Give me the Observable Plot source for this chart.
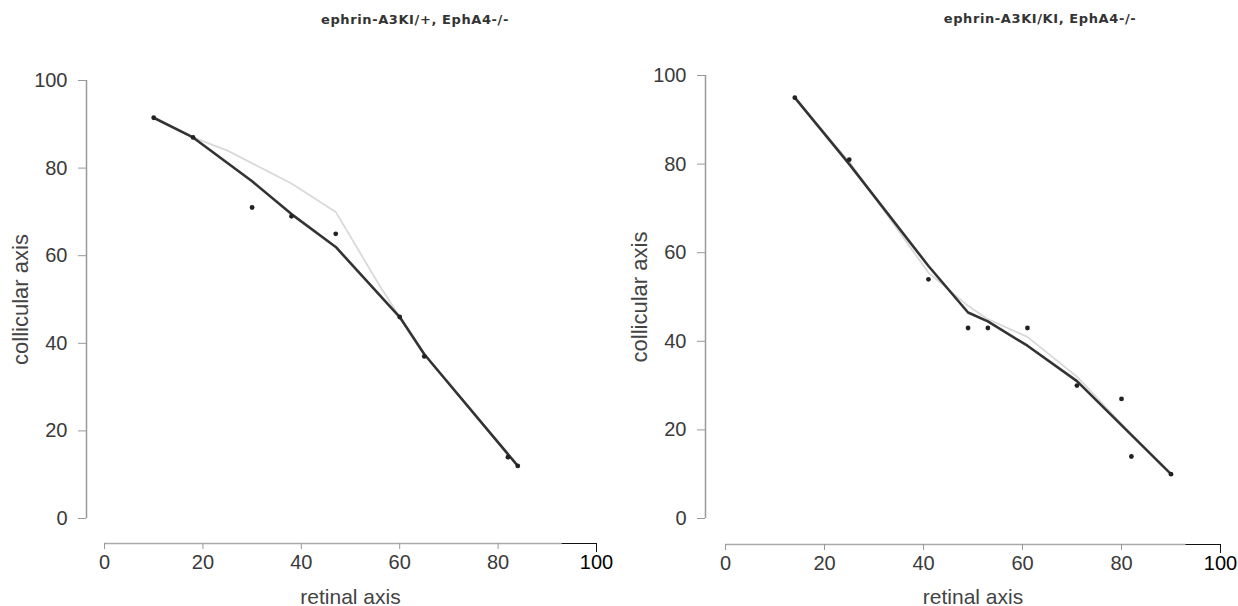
<!DOCTYPE html>
<html>
<head>
<meta charset="utf-8">
<script src="https://cdn.jsdelivr.net/npm/d3@7"></script>
<script src="https://cdn.jsdelivr.net/npm/@observablehq/plot@0.6"></script>
<style>
  html, body { margin: 0; padding: 0; background: #fff; }
  #wrap { position: relative; width: 1238px; height: 606px; overflow: hidden; font-family: "Liberation Sans", Arial, sans-serif; }
  .panel { position: absolute; top: 0; }
  .title { position: absolute; font-family: "DejaVu Sans", sans-serif; font-size: 13px; font-weight: bold; color: #333; white-space: nowrap; transform: translate(-50%, -50%); letter-spacing: 0.6px; }
</style>
</head>
<body>
<div id="wrap"></div>
<script>
// ---- data ----
const titles = ["ephrin-A3KI/+, EphA4-/-", "ephrin-A3KI/KI, EphA4-/-"];
const xLabel = "retinal axis";
const yLabel = "collicular axis";
const xTicks = [0, 20, 40, 60, 80];
const xEndTick = [100];
const yTicks = [0, 20, 40, 60, 80, 100];

// left panel
const leftPtsX = [10, 18, 30, 38, 47, 60, 65, 82, 84];
const leftPtsY = [91.5, 87, 71, 69, 65, 46, 37, 14, 12];
const leftFitX = [10, 18, 30, 38, 47, 60, 65, 84];
const leftFitY = [91.5, 87, 77, 69.5, 62, 46, 37.5, 12];
const leftGrayX = [10, 18, 25, 38, 47, 56, 60, 65, 84];
const leftGrayY = [91.5, 87, 84, 76.5, 70, 53, 46, 37.5, 12];

// right panel
const rightPtsX = [14, 25, 41, 49, 53, 61, 71, 80, 82, 90];
const rightPtsY = [95, 81, 54, 43, 43, 43, 30, 27, 14, 10];
const rightFitX = [14, 25, 41, 49, 53, 61, 71, 90];
const rightFitY = [95, 80, 57, 46.5, 44.5, 39, 31, 10];
const rightGrayX = [14, 25, 41, 49, 53, 61, 71, 82, 90];
const rightGrayY = [95, 80.5, 55.5, 48, 45, 41, 32, 19, 10];

const zip = (xs, ys) => xs.map((x, i) => ({x, y: ys[i]}));
const FONT = '"Liberation Sans", Arial, sans-serif';

function panel(cfg) {
  const pts = zip(cfg.px, cfg.py);
  const fit = zip(cfg.fx, cfg.fy);
  const gray = zip(cfg.gx, cfg.gy);
  return Plot.plot({
    width: cfg.width,
    height: 606,
    marginLeft: cfg.ml,
    marginRight: cfg.width - cfg.ml - cfg.pw,
    marginTop: cfg.mt,
    marginBottom: 88,
    x: {domain: [0, 100]},
    y: {domain: [0, 100]},
    style: {fontFamily: FONT, background: "transparent", color: "#333", overflow: "visible"},
    marks: [
      // axis lines (offset, R-style)
      Plot.ruleX([0], {y1: 0, y2: 100, dx: cfg.yOff, stroke: "#999", strokeWidth: 1.5}),
      Plot.ruleY([0], {x1: 0, x2: 93, dy: cfg.xOff, stroke: "#aaa", strokeWidth: 1.6}),
      Plot.ruleY([0], {x1: 93, x2: 100, dy: cfg.xOff, stroke: "#111", strokeWidth: 1.2}),
      Plot.axisY({ticks: yTicks, dx: cfg.yOff, tickSize: 8, tickPadding: 11, fontSize: 20, stroke: "#999", fill: "#3a3a3a", label: null}),
      Plot.axisX({ticks: xTicks, dy: cfg.xOff, tickSize: 6, tickPadding: 5, fontSize: 20, stroke: "#999", fill: "#3a3a3a", label: null}),
      Plot.axisX({ticks: xEndTick, dy: cfg.xOff, tickSize: 9, tickPadding: 2, fontSize: 20, stroke: "#111", fill: "#000", label: null}),
      // axis titles
      Plot.text([xLabel], {frameAnchor: "bottom", dy: 85, fontSize: 21, fill: "#444"}),
      Plot.text([yLabel], {frameAnchor: "left", textAnchor: "middle", dx: cfg.yLabDx, rotate: -90, fontSize: 22, fill: "#444"}),
      // data
      Plot.line(gray, {x: "x", y: "y", stroke: "#d9d9d9", strokeWidth: 1.8}),
      Plot.line(fit, {x: "x", y: "y", stroke: "#333", strokeWidth: 2.6, strokeLinejoin: "round"}),
      Plot.dot(pts, {x: "x", y: "y", r: 2.4, fill: "#222", stroke: "none"})
    ]
  });
}

const wrap = document.getElementById("wrap");

const left = panel({width: 620, ml: 104, pw: 492, mt: 80, xOff: 25, yOff: -18, yLabDx: -84,
  px: leftPtsX, py: leftPtsY, fx: leftFitX, fy: leftFitY, gx: leftGrayX, gy: leftGrayY});
left.classList.add("panel");
left.style.left = "0px";
wrap.appendChild(left);

const right = panel({width: 618, ml: 105, pw: 495, mt: 75, xOff: 26, yOff: -20, yLabDx: -86,
  px: rightPtsX, py: rightPtsY, fx: rightFitX, fy: rightFitY, gx: rightGrayX, gy: rightGrayY});
right.classList.add("panel");
right.style.left = "620px";
wrap.appendChild(right);

[[titles[0], 415, 19], [titles[1], 1040, 18]].forEach(([t, x, y]) => {
  const d = document.createElement("div");
  d.className = "title";
  d.textContent = t;
  d.style.left = x + "px";
  d.style.top = y + "px";
  wrap.appendChild(d);
});
</script>
</body>
</html>
